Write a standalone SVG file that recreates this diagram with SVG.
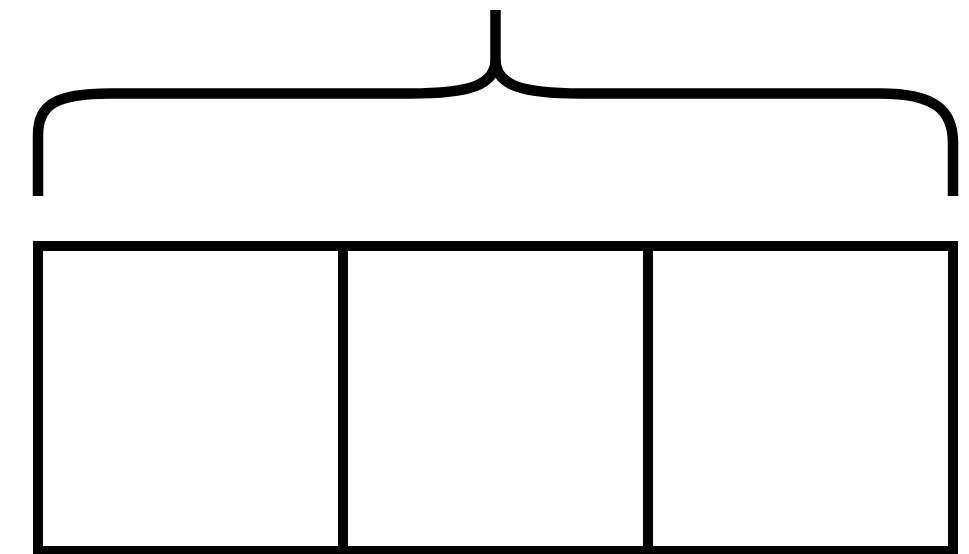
<svg xmlns="http://www.w3.org/2000/svg" width="969" height="554" viewBox="0 0 969 554">
  <style>
    .ln { fill: none; stroke: #000; stroke-width: 10.5; stroke-linecap: butt; stroke-linejoin: round; }
    .cell { fill: #fff; stroke: #000; stroke-width: 10; }
  </style>
  <rect x="0" y="0" width="969" height="554" fill="#fff"/>
  <g id="brace">
    <path class="ln" d="M38,196 V135 C38,105 55,93.5 110,93.5 H410 C470,93.5 495.5,85 495.5,60 V10"/>
    <path class="ln" d="M953,196 V143 C953,110 935,93.5 880,93.5 H581 C521,93.5 495.5,85 495.5,60"/>
  </g>
  <g id="cell1"><rect class="cell" x="38" y="246" width="305" height="305"/></g>
  <g id="cell2"><rect class="cell" x="343" y="246" width="305" height="305"/></g>
  <g id="cell3"><rect class="cell" x="648" y="246" width="305" height="305"/></g>
</svg>
